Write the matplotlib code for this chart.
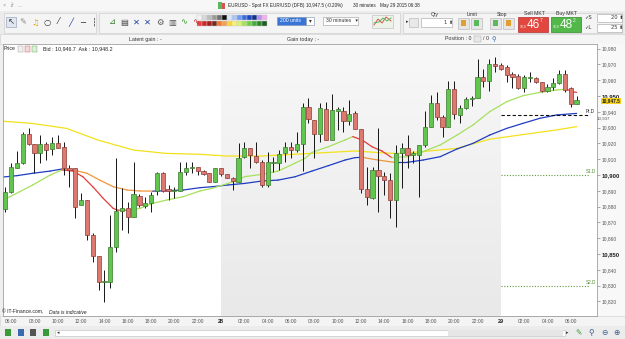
import numpy as np
import matplotlib
matplotlib.use("Agg")
import matplotlib.pyplot as plt
from matplotlib.patches import Rectangle
from matplotlib.colors import LinearSegmentedColormap
import matplotlib.transforms as mtransforms

plt.rcParams['font.family'] = ['Liberation Sans', 'DejaVu Sans']

# 30 minute candles, May 27 05:30 -> May 29 06:30 (points)
opens = [10878.5, 10889.5, 10904.6, 10907.4, 10925.7, 10919.4, 10913.7, 10919.4, 10916.5, 10920.0,
         10917.5, 10904.2, 10904.2, 10881.0, 10884.2, 10862.0, 10848.9, 10832.1, 10832.1, 10854.6,
         10877.2, 10879.3, 10873.6, 10886.9, 10880.6, 10882.1, 10890.1, 10901.1, 10890.9, 10890.1,
         10890.1, 10901.7, 10904.6, 10905.3, 10902.7, 10901.1, 10895.4, 10904.2, 10900.4, 10898.3,
         10895.4, 10911.6, 10917.3, 10912.0, 10908.4, 10893.7, 10907.8, 10907.8, 10913.7, 10917.9,
         10915.8, 10919.4, 10943.0, 10934.8, 10925.7, 10941.8, 10922.2, 10940.7, 10940.5, 10934.2,
         10939.0, 10929.1, 10891.1, 10885.2, 10903.2, 10899.6, 10896.8, 10884.2, 10913.7, 10916.9,
         10912.7, 10912.7, 10919.0, 10930.6, 10945.4, 10936.9, 10930.6, 10954.4, 10938.0, 10942.6,
         10947.9, 10948.5, 10962.2, 10959.5, 10970.0, 10969.6, 10968.6, 10963.7, 10962.7, 10954.9,
         10961.2, 10961.2, 10958.6, 10953.2, 10955.9, 10958.0, 10963.7, 10954.9, 10944.7]
highs = [10892.6, 10907.4, 10915.2, 10927.0, 10929.5, 10919.4, 10925.3, 10921.1, 10924.3, 10925.3,
         10921.1, 10906.3, 10904.6, 10888.4, 10884.2, 10863.1, 10848.9, 10839.9, 10874.7, 10911.0,
         10891.6, 10883.1, 10908.4, 10887.8, 10886.3, 10889.5, 10902.1, 10902.1, 10893.7, 10892.6,
         10908.0, 10908.0, 10908.0, 10905.3, 10903.2, 10901.1, 10904.2, 10904.2, 10900.4, 10898.9,
         10920.0, 10920.7, 10917.3, 10920.7, 10909.5, 10914.3, 10911.6, 10915.8, 10921.1, 10921.1,
         10927.4, 10945.4, 10948.5, 10934.8, 10945.4, 10946.0, 10951.1, 10943.2, 10943.2, 10947.5,
         10940.5, 10929.1, 10905.3, 10905.3, 10929.5, 10902.1, 10901.1, 10919.0, 10920.0, 10925.3,
         10915.2, 10919.0, 10940.5, 10950.6, 10952.3, 10938.0, 10959.5, 10959.5, 10944.3, 10949.6,
         10950.0, 10973.4, 10967.1, 10973.4, 10974.9, 10970.7, 10969.6, 10965.0, 10963.7, 10963.3,
         10965.0, 10962.2, 10959.1, 10957.4, 10961.2, 10966.5, 10966.5, 10955.9, 10950.0]
lows = [10876.8, 10888.4, 10904.2, 10906.8, 10919.0, 10901.1, 10907.4, 10909.5, 10912.7, 10916.9,
        10900.0, 10892.6, 10872.6, 10881.0, 10858.9, 10845.1, 10827.2, 10819.8, 10828.3, 10851.5,
        10865.2, 10863.1, 10873.6, 10880.0, 10878.9, 10876.8, 10887.3, 10889.5, 10884.2, 10885.2,
        10890.1, 10900.0, 10901.1, 10900.0, 10900.0, 10895.4, 10895.4, 10899.6, 10897.9, 10890.5,
        10895.4, 10910.5, 10904.2, 10907.4, 10892.6, 10892.6, 10902.1, 10903.2, 10908.0, 10911.0,
        10914.8, 10902.5, 10932.7, 10910.5, 10920.7, 10922.2, 10922.2, 10928.5, 10927.0, 10931.6,
        10929.1, 10888.4, 10881.0, 10884.8, 10876.8, 10887.3, 10872.6, 10867.3, 10891.6, 10904.6,
        10907.4, 10886.3, 10917.9, 10930.6, 10934.8, 10924.3, 10930.6, 10935.4, 10932.7, 10941.8,
        10943.7, 10948.5, 10955.9, 10953.2, 10965.0, 10966.5, 10959.1, 10955.3, 10954.2, 10952.7,
        10959.1, 10958.0, 10952.3, 10952.3, 10953.8, 10957.4, 10952.7, 10943.2, 10944.7]
closes = [10889.5, 10905.3, 10907.4, 10925.7, 10919.4, 10913.7, 10919.4, 10915.8, 10920.0, 10917.3,
          10904.2, 10903.0, 10880.0, 10884.2, 10862.0, 10848.9, 10832.1, 10832.5, 10854.2, 10877.2,
          10879.3, 10873.6, 10887.8, 10881.0, 10882.1, 10887.3, 10901.1, 10890.1, 10890.1, 10890.5,
          10901.7, 10904.6, 10905.0, 10902.5, 10900.6, 10895.4, 10904.2, 10900.4, 10898.3, 10896.2,
          10910.5, 10917.3, 10912.7, 10908.4, 10893.7, 10908.4, 10908.4, 10913.1, 10917.9, 10915.8,
          10919.4, 10943.0, 10935.4, 10925.7, 10942.2, 10922.2, 10941.1, 10941.6, 10934.2, 10938.8,
          10929.1, 10891.1, 10886.3, 10903.2, 10899.6, 10896.8, 10884.2, 10913.7, 10916.9, 10912.7,
          10913.7, 10919.0, 10930.6, 10945.4, 10936.9, 10930.6, 10954.4, 10938.4, 10942.6, 10947.9,
          10948.5, 10962.2, 10959.5, 10970.0, 10969.2, 10967.1, 10963.3, 10962.2, 10954.9, 10962.2,
          10961.6, 10959.1, 10953.2, 10955.9, 10958.0, 10963.7, 10953.8, 10944.7, 10947.5]

# moving averages (candle index, value)
ma_long_idx = [-1, 4.5, 10.5, 16, 22, 27.5, 33.5, 38, 44, 49.5, 55.5, 60, 64, 67, 71.5, 77.5, 83, 89, 94.5, 98]
ma_long_val = [10934.2, 10932.7, 10929.5, 10922.0, 10915.8, 10913.7, 10913.1, 10912.0, 10912.0, 10913.1,
               10914.3, 10915.2, 10914.2, 10913.6, 10914.8, 10916.9, 10922.6, 10925.7, 10928.5, 10930.6]

ma_mid_idx = [-1, 2, 4.7, 7.7, 9.7, 11.6, 14, 16.2, 18.5, 20.9, 23.1, 25.3, 27.7, 30.5, 33.4, 35.5, 38.2,
              41.1, 44, 46.8, 49.7, 52.6, 55.4, 58.3, 60, 61.2, 63.9, 66.8, 68.9, 71.7, 74.6, 77.5, 80.2,
              83.1, 86, 88.8, 91.7, 94.6, 98]
ma_mid_val = [10898.5, 10899.6, 10901.1, 10902.5, 10903.8, 10903.2, 10901.1, 10896.8, 10892.6, 10890.5,
              10889.9, 10889.8, 10890.1, 10890.5, 10892.0, 10892.6, 10893.7, 10894.7, 10896.2, 10896.8,
              10898.9, 10902.5, 10905.9, 10909.5, 10911.0, 10911.2, 10909.5, 10908.0, 10908.0, 10909.5,
              10911.6, 10916.5, 10920.0, 10925.3, 10929.5, 10932.7, 10935.9, 10938.0, 10939.0]

ma_fast_idx = [-1, 0.8, 2.5, 4.7, 7.7, 9.7, 11.6, 13.3, 15, 16.8, 18.5, 19.2, 20.9, 23.1, 25.3, 27.7, 30.5,
               33.4, 35.5, 38.2, 39.9, 41.1, 44, 46.8, 49.7, 51.4, 52.6, 55.4, 58.3, 59.6, 61.2, 62.9, 64.6,
               66.3, 68.9, 71.7, 74.6, 77.5, 80.2, 83.1, 86, 88.8, 91.7, 94.6, 96.3, 97.2, 98]
ma_fast_val = [10883.1, 10886.3, 10889.5, 10893.7, 10900.0, 10903.2, 10902.5, 10898.9, 10892.6, 10885.2,
               10878.9, 10877.8, 10877.7, 10878.9, 10882.1, 10884.2, 10886.3, 10889.9, 10891.6, 10894.7,
               10896.8, 10899.0, 10900.4, 10902.5, 10907.5, 10910.5, 10914.3, 10917.9, 10922.2, 10924.3,
               10922.2, 10917.9, 10915.2, 10911.0, 10911.6, 10914.8, 10919.0, 10925.3, 10931.6, 10940.1,
               10946.4, 10950.2, 10952.3, 10953.8, 10954.4, 10952.7, 10952.3]

pivot = 10937.7
support1 = 10900.0
support2 = 10830.0
last_price = 10947.5

time_ticks = [1, 5, 9, 13, 17, 21, 25, 29, 33, 37, 41, 45, 49, 53, 57, 61, 65, 69, 73, 77, 81, 85, 89, 93, 97]
time_labels = ['06:00', '08:00', '10:00', '12:00', '14:00', '16:00', '18:00', '20:00', '22:00', '28',
               '02:00', '04:00', '06:00', '08:00', '10:00', '12:00', '14:00', '16:00', '18:00', '20:00',
               '22:00', '29', '02:00', '04:00', '06:00']
day_marks = [37, 85]
price_ticks = list(range(10820, 10981, 10))

W, H = 625, 339
fig = plt.figure(figsize=(W / 100, H / 100), dpi=100)
fig.patch.set_facecolor('#efefef')


def frac(x0, y0, x1, y1):
    return [x0 / W, 1 - y1 / H, (x1 - x0) / W, (y1 - y0) / H]


# background ui (behind chart)
bg = fig.add_axes([0, 0, 1, 1], zorder=0)
bg.set_xlim(0, W)
bg.set_ylim(H, 0)
bg.axis('off')

ax = fig.add_axes(frac(3, 44, 597, 316), zorder=1)
fg = fig.add_axes([0, 0, 1, 1], zorder=5)
fg.set_xlim(0, W)
fg.set_ylim(H, 0)
fg.axis('off')


def rect(a, x0, y0, x1, y1, fc, ec='none', lw=0.5, z=1):
    a.add_patch(Rectangle((x0, y0), x1 - x0, y1 - y0, fc=fc, ec=ec, lw=lw, zorder=z))


def label(a, x, y, s, size=3.8, **kw):
    kw.setdefault('va', 'center')
    kw.setdefault('color', '#333333')
    a.text(x, y, s, fontsize=size, **kw)


# ---- chart
ylo, yhi = 10810.8, 10982.9
xlo, xhi = -0.4, 101.5
ax.set_facecolor('white')

shade = LinearSegmentedColormap.from_list('shade', ['#f8f8f8', '#e9e9e9'])
grad = np.linspace(0, 1, 64).reshape(-1, 1)
ax.imshow(grad, extent=[day_marks[0], day_marks[1], ylo, yhi], aspect='auto', cmap=shade, zorder=0)

o = np.array(opens)
h = np.array(highs)
l = np.array(lows)
c = np.array(closes)
xs = np.arange(len(o))
up = c >= o
ax.vlines(xs, l, h, color='#151515', lw=0.7, zorder=3)
ax.bar(xs, np.maximum(np.abs(c - o), 0.6), bottom=np.minimum(o, c), width=0.72,
       color=np.where(up, '#62c64e', '#dc7a70'), edgecolor=np.where(up, '#3b7a2f', '#8e3a34'),
       linewidth=0.5, zorder=4)


def slope_line(idx, vals, up_col, down_col):
    for k in range(len(idx) - 1):
        col = up_col if vals[k + 1] >= vals[k] else down_col
        ax.plot(idx[k:k + 2], vals[k:k + 2], color=col, lw=0.9, solid_capstyle='round', zorder=2)


ax.plot(ma_long_idx, ma_long_val, color='#f2e21c', lw=0.9, zorder=2)
slope_line(ma_mid_idx, ma_mid_val, '#1f3cc2', '#f0953a')
slope_line(ma_fast_idx, ma_fast_val, '#a6e05c', '#e63a3a')

ax.hlines(pivot, day_marks[1], 100.3, colors='#111111', linestyles=(0, (3, 2)), lw=0.8, zorder=2)
ax.hlines([support1, support2], day_marks[1], 100.3, colors='#5f9a3c', linestyles=(0, (1, 1.5)),
          lw=0.8, zorder=2)
for val, txt, col in [(pivot, 'Pt.D', '#222222'), (support1, 'S1.D', '#4f8a2c'), (support2, 'S2.D', '#4f8a2c')]:
    ax.annotate(txt, (99.6, val), xytext=(0, 0.8), textcoords='offset points', fontsize=3.3,
                color=col, va='bottom', ha='left', annotation_clip=False, zorder=6)

ax.set_xlim(xlo, xhi)
ax.set_ylim(ylo, yhi)
ax.yaxis.tick_right()
ax.set_yticks(price_ticks, [f'{v:,}' for v in price_ticks])
ax.tick_params(axis='y', length=2, width=0.5, color='#8a8a8a', labelsize=3.5, labelcolor='#555555', pad=1)
for lbl, v in zip(ax.get_yticklabels(), price_ticks):
    if v % 50 == 0:
        lbl.set_fontweight('bold')
        lbl.set_fontsize(4.2)
        lbl.set_color('#222222')
ax.set_xticks(time_ticks, time_labels)
ax.tick_params(axis='x', length=0, labelsize=3.5, labelcolor='#555555', pad=2.2)
for lbl, t in zip(ax.get_xticklabels(), time_labels):
    if len(t) == 2:
        lbl.set_fontweight('bold')
        lbl.set_fontsize(4)
        lbl.set_color('#222222')
for sp in ax.spines.values():
    sp.set_color('#a0a0a0')
    sp.set_linewidth(0.6)

tr = mtransforms.blended_transform_factory(ax.transAxes, ax.transData)
ax.text(1.0, pivot - 2.2, f'{int(pivot):,}', transform=tr, fontsize=3.2, color='#555555',
        va='center', ha='left', clip_on=False)
ax.text(1.0075, last_price - 0.6, f'{last_price:,.1f}', transform=tr, fontsize=3.4, color='#222222',
        fontweight='bold', va='center', ha='left', clip_on=False, zorder=7,
        bbox=dict(boxstyle='square,pad=0.12', fc='#f4d21e', ec='none'))

# ---- window chrome
rect(bg, 0, 0, 625, 11, '#f7f7f7')
label(bg, 3, 5.2, '×   ∂   ...', size=4, color='#9a9a9a')
rect(bg, 218, 1.5, 222, 8.5, '#5cb85c')
rect(bg, 222, 3, 225, 8.5, '#d9534f')
label(bg, 227.5, 5.5, 'EURUSD - Spot FX EUR/USD (DFB)', size=3.3, color='#222222')
label(bg, 306.5, 5.5, '10,947.5 (-0.20%)', size=3.3, color='#222222')
label(bg, 353, 5.5, '30 minutes', size=3.3, color='#222222')
label(bg, 380, 5.5, 'May 29 2015 06:38', size=3.3, color='#222222')

rect(bg, 0, 11, 625, 34, '#ececec')
rect(bg, 4, 12.5, 96, 32.5, '#f4f4f4', '#cfcfcf')
rect(bg, 99, 12.5, 400, 32.5, '#f4f4f4', '#cfcfcf')
rect(bg, 403, 12.5, 622, 32.5, '#f4f4f4', '#cfcfcf')
rect(bg, 6, 17, 16, 27, '#dfe6ef', '#9aa8bb')
icons = [('↖', '#333333'), ('✎', '#888888'), ('♫', '#d8a000'), ('○', '#333333'), ('⁄', '#333333'),
         ('╱', '#2244aa'), ('─', '#333333'), ('┆', '#333333'), ('⊿', '#3a7a2f'), ('▤', '#444444'),
         ('✕', '#2244aa'), ('✕', '#2244aa'), ('⚙', '#555555'), ('▥', '#555555'), ('∿', '#3a9a2f'),
         ('∿', '#cc3333')]
for k, (g, col) in enumerate(icons):
    xi = 11 + k * 11.9 + (6 if k > 7 else 0)
    bg.text(xi, 22, g, fontsize=6, color=col, ha='center', va='center', family=['DejaVu Sans'])

pal_top = ['#f4f4f4', '#d8d8d8', '#bdbdbd', '#9a9a9a', '#707070', '#111111', '#d8e6fa', '#a9c6f4',
           '#6d9cee', '#3a6be0', '#1f45c0', '#17308a', '#b890f0', '#f0b0ee']
pal_bot = ['#e84040', '#d02828', '#a02020', '#7a2a1c', '#f07a30', '#f5a050', '#f8d640', '#f8f070',
           '#d6f27a', '#a6e35c', '#72cc4e', '#48ad3c', '#2b8a2e', '#1a5e22']
for k, col in enumerate(pal_top):
    rect(bg, 197 + k * 5, 14.5, 202 + k * 5, 20, col, '#c8c8c8', 0.3)
for k, col in enumerate(pal_bot):
    rect(bg, 197 + k * 5, 20.5, 202 + k * 5, 26, col, '#c8c8c8', 0.3)

rect(bg, 277, 17, 306, 25, '#3875d7', '#7a8ea8', 0.4)
label(bg, 280, 21, '200 units', size=3.7, color='white')
rect(bg, 306, 17, 314, 25, 'white', '#7a8ea8', 0.4)
label(bg, 310, 21, '▾', size=4, color='#333333', ha='center')
rect(bg, 323, 17, 358, 25, 'white', '#9a9a9a', 0.4)
label(bg, 326, 21, '30 minutes   ▾', size=3.7)
rect(bg, 372, 15, 393, 28, '#eef3ea', '#b8b8b8', 0.4)
bg.plot([374, 378, 382, 386, 391], [25, 19, 23, 17, 21], color='#d9534f', lw=0.7)
bg.plot([374, 379, 383, 387, 391], [23, 22, 18, 21, 18], color='#5cb85c', lw=0.7)
label(bg, 406, 22, '▸', size=3.5)
rect(bg, 409, 17.5, 418, 26.5, '#e8e8e8', '#b0b0b0', 0.4)
label(bg, 431, 14.5, 'Qty', size=3.7)
rect(bg, 421, 17.5, 452, 26.5, 'white', '#a0a0a0', 0.4)
label(bg, 444, 22, '1 ⬍', size=3.7, family=['DejaVu Sans'])
label(bg, 467, 14.5, 'Limit', size=3.7)
label(bg, 497, 14.5, 'Stop', size=3.7)
for x0, col in [(458, '#e0a030'), (471, '#5cb85c'), (490, '#5cb85c'), (503, '#e0a030')]:
    rect(bg, x0, 17.5, x0 + 11, 28.5, '#e6e6e6', '#b0b0b0', 0.4)
    rect(bg, x0 + 3, 20, x0 + 8, 26, col)
label(bg, 524, 13.8, 'Sell MKT', size=3.7)
label(bg, 556, 13.8, 'Buy MKT', size=3.7)
rect(bg, 518, 16.5, 548, 31.5, '#e2473f', '#b03030', 0.5)
rect(bg, 551, 16.5, 581, 31.5, '#52b84a', '#2f8a2a', 0.5)
for x0, big, small in [(518, '46', '7'), (551, '48', '2')]:
    label(bg, x0 + 2, 26.5, '10,9', size=2.4, color='white')
    label(bg, x0 + 8.5, 24.5, big, size=8.5, color='white')
    label(bg, x0 + 22, 20.5, small, size=3.4, color='white')
label(bg, 584, 17.5, '✓S', size=3.8, family=['DejaVu Sans'])
label(bg, 584, 27.5, '✓L', size=3.8, family=['DejaVu Sans'])
rect(bg, 597, 13.5, 622, 21.5, 'white', '#a0a0a0', 0.4)
rect(bg, 597, 23.5, 622, 31.5, 'white', '#a0a0a0', 0.4)
label(bg, 611, 17.5, '20 ⬍', size=3.7, family=['DejaVu Sans'])
label(bg, 611, 27.5, '25 ⬍', size=3.7, family=['DejaVu Sans'])

rect(bg, 0, 34, 625, 44, '#f5f5f5', '#d4d4d4', 0.5)
label(bg, 145, 39, 'Latent gain : -', size=3.8, ha='center')
label(bg, 303, 39, 'Gain today : -', size=3.8, ha='center')
label(bg, 445, 39, 'Position : 0', size=3.8)
rect(bg, 474, 36, 481, 42, '#e8e8e8', '#a0a0a0', 0.3)
label(bg, 483, 39, '/ 0', size=3.8)
label(bg, 491, 39, '⚲', size=4.5, color='#2a5db0', family=['DejaVu Sans'])

rect(bg, 597, 44, 625, 316, '#f8f8f8')
rect(bg, 0, 316, 625, 326, '#f4f4f4', '#d0d0d0', 0.4)
rect(bg, 0, 326, 625, 339, '#ececec')
for k, col in enumerate(['#3a9a3a', '#3a6ab0', '#555555', '#3a9a3a']):
    rect(bg, 5 + k * 12.5, 329, 11 + k * 12.5, 336, col)
rect(bg, 55, 329.5, 565, 336, 'white', '#bdbdbd', 0.4)
rect(bg, 448, 330, 563, 335.5, '#e6e6e6')
label(bg, 57, 332.8, '◂', size=3.5, family=['DejaVu Sans'])
label(bg, 566, 332.8, '▸', size=3.5, family=['DejaVu Sans'])
for k, (g, col) in enumerate([('✎', '#3a9a3a'), ('⚲', '#3a5a8a'), ('⊖', '#3a5a8a'), ('⊕', '#3a5a8a')]):
    bg.text(579 + k * 12.5, 332.5, g, fontsize=5.5, color=col, ha='center', va='center',
            family=['DejaVu Sans'])

# texts drawn over the chart area
label(fg, 4, 49, 'Price', size=3.8, color='#222222')
rect(fg, 18, 46, 23, 52, '#f0f0f0', '#999999', 0.3)
rect(fg, 25, 46, 30, 52, '#f4dada', '#c05050', 0.3)
rect(fg, 32, 46, 37, 52, '#dff0da', '#50a050', 0.3)
label(fg, 43, 49, 'Bid : 10,946.7  Ask : 10,948.2', size=3.8, color='#222222')
label(fg, 2.5, 312, '© IT-Finance.com,', size=3.6, color='#222222')
label(fg, 49, 312, 'Data is indicative', size=3.6, color='#222222', style='italic')

fig.savefig('out.png', dpi=100, facecolor=fig.get_facecolor())
